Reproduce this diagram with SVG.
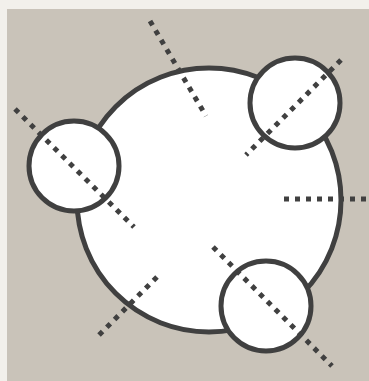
<svg xmlns="http://www.w3.org/2000/svg" width="369" height="381" viewBox="0 0 369 381">
<style>
.c{fill:#ffffff;stroke:#404040;stroke-width:5}
.d{fill:none;stroke:#404040;stroke-width:5;stroke-dasharray:5 6}
</style>
<rect x="0" y="0" width="369" height="381" fill="#f2f0eb"/>
<rect x="7" y="9" width="362" height="372" fill="#c9c3b9"/>
<g id="main"><circle class="c" cx="209" cy="200" r="132"/></g>
<g id="node-top-right"><circle class="c" cx="295" cy="103" r="45"/></g>
<g id="node-left"><circle class="c" cx="74" cy="166" r="45"/></g>
<g id="node-bottom-right"><circle class="c" cx="266" cy="306" r="45"/></g>
<g id="connectors">
<line class="d" x1="150" y1="21" x2="206" y2="116"/>
<line class="d" x1="341" y1="60" x2="246" y2="155"/>
<line class="d" x1="284" y1="199" x2="369" y2="199"/>
<line class="d" x1="15" y1="109" x2="134" y2="227"/>
<line class="d" x1="157" y1="277" x2="99" y2="335"/>
<line class="d" x1="213" y1="247" x2="332" y2="366"/>
</g>
</svg>
